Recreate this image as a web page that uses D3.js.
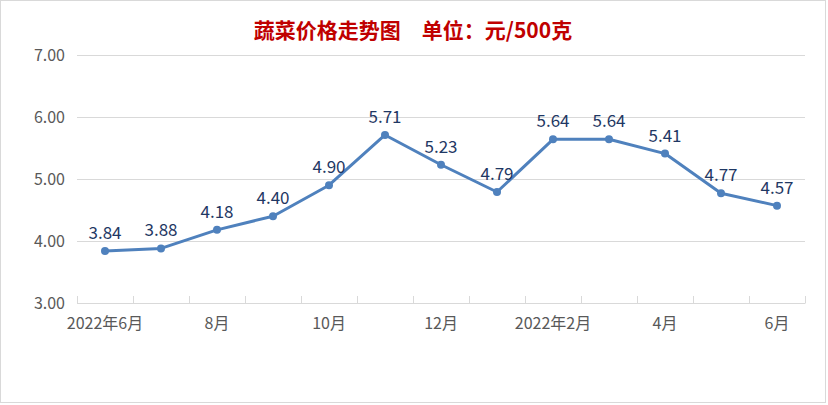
<!DOCTYPE html>
<html>
<head>
<meta charset="utf-8">
<script src="https://cdn.jsdelivr.net/npm/d3@7"></script>
<style>
  html, body { margin: 0; padding: 0; background: #fff; }
  svg { display: block; }
</style>
</head>
<body>
<div id="chart"></div>
<script>
/************************* Data *************************/
const MONTHS = ["2022年6月", "7月", "8月", "9月", "10月", "11月", "12月",
                "1月", "2022年2月", "3月", "4月", "5月", "6月"];
const PRICES = [3.84, 3.88, 4.18, 4.40, 4.90, 5.71, 5.23, 4.79, 5.64, 5.64, 5.41, 4.77, 4.57];
const Y_TICKS = [3, 4, 5, 6, 7];
const TITLE = "蔬菜价格走势图　单位：元/500克";

/************************* Layout *************************/
const W = 828, H = 405;
const M = {left: 77, right: 23, top: 55, bottom: 102};
const FONT = "'Noto Sans CJK SC', 'Noto Sans', sans-serif";

const svg = d3.select("#chart").append("svg")
  .attr("width", W)
  .attr("height", H);

// chart border
svg.append("rect")
  .attr("x", 0.5).attr("y", 0.5)
  .attr("width", W - 3).attr("height", H - 3)
  .attr("fill", "#fff")
  .attr("stroke", "#d9d9d9");

const x = d3.scaleBand()
  .domain(MONTHS)
  .range([M.left, W - M.right])
  .padding(0);

const y = d3.scaleLinear()
  .domain([3, 7])
  .range([H - M.bottom, M.top]);

// boundaries between categories, for the tick marks
const xEdge = d3.scaleLinear()
  .domain([0, MONTHS.length])
  .range([M.left, W - M.right]);

/************************* Grid + axes *************************/
svg.append("g")
  .attr("transform", `translate(${M.left},0)`)
  .call(d3.axisLeft(y)
    .tickValues(Y_TICKS)
    .tickSize(-(W - M.left - M.right))
    .tickPadding(12)
    .tickFormat(d3.format(".2f")))
  .call(g => g.select(".domain").remove())
  .call(g => g.selectAll(".tick line").attr("stroke", "#d9d9d9"))
  .call(g => g.selectAll(".tick text")
    .attr("fill", "#595959")
    .style("font-family", FONT)
    .style("font-size", "16px"));

// bottom axis line with upward tick marks
svg.append("g")
  .attr("transform", `translate(0,${y(3)})`)
  .call(d3.axisBottom(xEdge)
    .tickValues(d3.range(MONTHS.length + 1))
    .tickSizeInner(-7)
    .tickSizeOuter(0)
    .tickFormat(""))
  .call(g => g.select(".domain").attr("stroke", "#d9d9d9"))
  .call(g => g.selectAll(".tick line").attr("stroke", "#d9d9d9"));

// month labels, every other category
svg.append("g")
  .attr("transform", `translate(0,${y(3)})`)
  .call(d3.axisBottom(x)
    .tickValues(MONTHS.filter((d, i) => i % 2 === 0))
    .tickSize(0)
    .tickPadding(15))
  .call(g => g.select(".domain").remove())
  .call(g => g.selectAll(".tick text")
    .attr("fill", "#595959")
    .style("font-family", FONT)
    .style("font-size", "16px"));

/************************* Series *************************/
const cx = (d, i) => x(MONTHS[i]) + x.bandwidth() / 2;

svg.append("path")
  .datum(PRICES)
  .attr("fill", "none")
  .attr("stroke", "#4f81bd")
  .attr("stroke-width", 3)
  .attr("stroke-linejoin", "round")
  .attr("d", d3.line().x(cx).y(d => y(d)));

svg.append("g")
  .selectAll("circle")
  .data(PRICES)
  .join("circle")
    .attr("cx", cx)
    .attr("cy", d => y(d))
    .attr("r", 4)
    .attr("fill", "#4f81bd");

svg.append("g")
  .selectAll("text")
  .data(PRICES)
  .join("text")
    .attr("x", cx)
    .attr("y", d => y(d) - 12)
    .attr("text-anchor", "middle")
    .attr("fill", "#1f3864")
    .style("font-family", FONT)
    .style("font-size", "17px")
    .text(d => d.toFixed(2));

/************************* Title *************************/
svg.append("text")
  .attr("x", 413)
  .attr("y", 38)
  .attr("text-anchor", "middle")
  .attr("fill", "#c00000")
  .style("font-family", FONT)
  .style("font-size", "21px")
  .style("font-weight", "bold")
  .text(TITLE);
</script>
</body>
</html>
